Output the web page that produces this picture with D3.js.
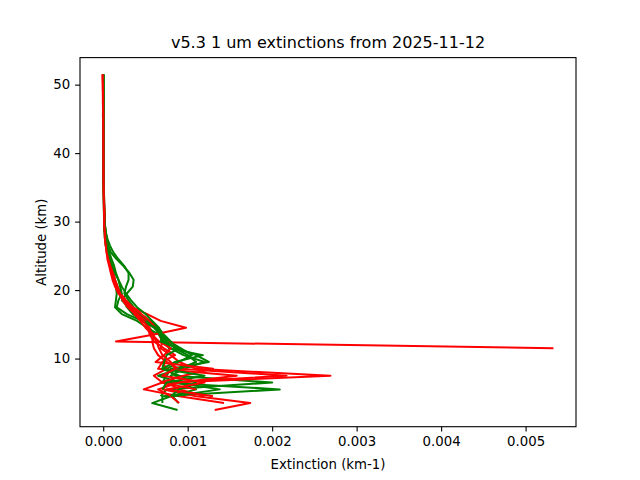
<!DOCTYPE html>
<html>
<head>
<meta charset="utf-8">
<script src="https://cdn.jsdelivr.net/npm/d3@7"></script>
<style>
  body { margin: 0; background: #fff; }
  text { font-family: "DejaVu Sans", sans-serif; fill: #000; }
</style>
</head>
<body>
<script>

// ================================ data
// altitude grid (km), top to bottom
var altitudes = [51.5, 50.5, 49.5, 48.5, 47.5, 46.5, 45.5, 44.5, 43.5, 42.5,
  41.5, 40.5, 39.5, 38.5, 37.5, 36.5, 35.5, 34.5, 33.5, 32.5,
  31.5, 30.5, 29.5, 28.5, 27.5, 26.5, 25.5, 24.5, 23.5, 22.5,
  21.5, 20.5, 19.5, 18.5, 17.5, 16.5, 15.5, 14.5, 13.5, 12.5,
  11.5, 10.5, 9.5, 8.5, 7.5, 6.5, 5.5, 4.5, 3.5, 2.5];

// green profiles (km-1), null = no data
var green1 = [0.000001, 0.000001, 0.000002, 0.000002, 0.000002, 0.000002, 0.000002, 0.000003, 0.000003, 0.000003,
  0.000003, 0.000004, 0.000004, 0.000004, 0.000005, 0.000005, 0.000006, 0.000006, 0.000007, 0.000008,
  0.000009, 0.000011, 0.00002, 0.00003, 0.00004, 0.00006, 0.00009, 0.00016, 0.00024, 0.00031,
  0.00036, 0.00035, 0.00028, 0.00022, 0.0003, 0.00041, 0.00052, 0.00063, 0.0007, 0.00078,
  0.00092, 0.00105, 0.0009, 0.00075, 0.00085, 0.002, 0.00075, 0.00068, null, null];
var green2 = [0.000003, 0.000002, 0.000002, 0.000003, 0.000003, 0.000003, 0.000003, 0.000004, 0.000004, 0.000004,
  0.000005, 0.000005, 0.000005, 0.000006, 0.000006, 0.000007, 0.000008, 0.000009, 0.00001, 0.000012,
  0.000014, 0.000016, 0.00002, 0.00003, 0.00005, 0.00008, 0.00012, 0.00018, 0.00025, 0.0003,
  0.0003, 0.00027, 0.00025, 0.0003, 0.00036, 0.00044, 0.00055, 0.00065, 0.00072, 0.0008,
  0.00088, 0.0011, 0.00125, 0.0008, 0.00075, 0.0007, 0.00209, 0.0007, 0.0007, null];
var green3 = [0.000002, 0.000002, 0.000002, 0.000002, 0.000003, 0.000003, 0.000003, 0.000003, 0.000003, 0.000004,
  0.000004, 0.000004, 0.000005, 0.000005, 0.000005, 0.000006, 0.000006, 0.000007, 0.000008, 0.000009,
  0.00001, 0.000012, 0.000015, 0.00002, 0.00003, 0.00004, 0.00005, 0.00007, 0.00009, 0.00011,
  0.00013, 0.00015, 0.00016, 0.00015, 0.00014, 0.00022, 0.0004, 0.00052, 0.00066, 0.00072,
  0.0008, 0.00095, 0.0012, 0.00095, 0.0008, 0.00085, 0.00138, 0.00082, 0.00089, null];
var green4 = [0.000001, 0.000001, 0.000001, 0.000002, 0.000002, 0.000002, 0.000002, 0.000002, 0.000003, 0.000003,
  0.000003, 0.000003, 0.000004, 0.000004, 0.000004, 0.000005, 0.000005, 0.000006, 0.000006, 0.000007,
  0.000008, 0.000009, 0.00001, 0.000015, 0.00002, 0.00003, 0.00005, 0.00007, 0.0001, 0.00012,
  0.00014, 0.00017, 0.0002, 0.00024, 0.00028, 0.00035, 0.00048, 0.0006, 0.00068, 0.00075,
  0.00085, 0.001, 0.0011, 0.0009, 0.00065, 0.0009, 0.0011, 0.0008, 0.00058, 0.00088];
var green5 = [0.000002, 0.000002, 0.000002, 0.000003, 0.000003, 0.000003, 0.000004, 0.000004, 0.000004, 0.000005,
  0.000005, 0.000005, 0.000006, 0.000006, 0.000007, 0.000007, 0.000008, 0.000009, 0.00001, 0.000011,
  0.000013, 0.000015, 0.00002, 0.00003, 0.00004, 0.00005, 0.00007, 0.0001, 0.00013, 0.00015,
  0.00018, 0.0002, 0.00022, 0.00018, 0.00016, 0.00028, 0.00046, 0.00062, 0.0007, 0.00072,
  0.00078, 0.00118, 0.00085, 0.0007, 0.0009, 0.0011, 0.0009, 0.0008, null, null];
var green6 = [0.000001, 0.000002, 0.000002, 0.000002, 0.000002, 0.000003, 0.000003, 0.000003, 0.000003, 0.000004,
  0.000004, 0.000004, 0.000004, 0.000005, 0.000005, 0.000006, 0.000006, 0.000007, 0.000007, 0.000008,
  0.000009, 0.00001, 0.00001, 0.00002, 0.00003, 0.00004, 0.00006, 0.00008, 0.00011, 0.00014,
  0.00018, 0.00022, 0.00027, 0.00033, 0.0004, 0.0005, 0.00058, 0.00066, 0.0007, 0.00068,
  0.0009, 0.00075, 0.00072, 0.0007, 0.0012, 0.00075, 0.0007, null, null, null];

// red profiles (km-1)
var red1 = [-0.000008, -0.000004, -0.000006, -0.000003, -0.000005, -0.000002, -0.000004, -0.000001, -0.000003, 0.000001,
  -0.000002, 0.000002, 0.000001, 0.000003, 0.000004, 0.000005, 0.000006, 0.000007, 0.000009, 0.000011,
  0.000014, 0.000017, 0.00001, 0.00002, 0.00003, 0.00004, 0.00005, 0.00006, 0.00008, 0.0001,
  0.00012, 0.00015, 0.00019, 0.00025, 0.00032, 0.00042, 0.0005, 0.00055, 0.0006, 0.00015,
  0.00533, null, 0.0007, 0.00075, 0.0006, 0.0007, 0.00048, 0.0009, 0.00143, null];
var red2 = [-0.000005, -0.000006, -0.000003, -0.000004, -0.000002, -0.000003, -0.000001, -0.000002, 0.000001, 0.000001,
  0.000002, 0.000002, 0.000003, 0.000003, 0.000004, 0.000005, 0.000006, 0.000008, 0.00001, 0.000012,
  0.000015, 0.000018, 0.000015, 0.00002, 0.00003, 0.00004, 0.00005, 0.00007, 0.00009, 0.00011,
  0.00013, 0.00016, 0.0002, 0.00027, 0.00035, 0.00045, 0.00055, 0.00062, 0.00066, 0.0007,
  0.00068, 0.0008, 0.0009, 0.0011, 0.00269, 0.0008, 0.0007, 0.0011, 0.00174, 0.00132];
var red3 = [-0.000002, -0.000003, -0.000001, -0.000002, 0.000001, -0.000001, 0.000001, 0.000002, 0.000002, 0.000002,
  0.000003, 0.000003, 0.000003, 0.000004, 0.000004, 0.000005, 0.000005, 0.000006, 0.000007, 0.000008,
  0.000009, 0.00001, 0.00001, 0.000015, 0.00002, 0.00003, 0.00004, 0.00005, 0.00007, 0.00009,
  0.00011, 0.00014, 0.00018, 0.00024, 0.00034, 0.00052, 0.00068, 0.00098, 0.0006, 0.00058,
  0.0006, 0.00065, 0.00075, 0.0009, 0.00217, 0.00075, 0.0009, 0.0012, null, null];
var red4 = [-0.000006, -0.000002, -0.000004, -0.000001, -0.000003, 0.000001, -0.000002, 0.000001, 0.000002, 0.000002,
  0.000002, 0.000003, 0.000003, 0.000004, 0.000004, 0.000005, 0.000006, 0.000007, 0.000008, 0.00001,
  0.000012, 0.000014, 0.00001, 0.00002, 0.00003, 0.00004, 0.00006, 0.00008, 0.0001, 0.00012,
  0.00014, 0.00017, 0.00021, 0.00026, 0.00033, 0.0004, 0.00048, 0.00053, 0.00055, 0.0006,
  0.00072, 0.00085, 0.0007, 0.00065, 0.00158, 0.0009, 0.00065, 0.0008, 0.0009, null];
var red5 = [-0.000003, -0.000001, -0.000002, 0.000001, -0.000001, 0.000001, 0.000002, 0.000002, 0.000002, 0.000003,
  0.000003, 0.000003, 0.000004, 0.000004, 0.000005, 0.000005, 0.000006, 0.000007, 0.000008, 0.000009,
  0.000011, 0.000013, 0.000012, 0.00002, 0.00003, 0.00004, 0.00005, 0.00006, 0.00008, 0.0001,
  0.00013, 0.00016, 0.0002, 0.00026, 0.00031, 0.00037, 0.00044, 0.0005, 0.00058, 0.00066,
  0.0008, 0.00072, 0.00062, 0.0013, 0.00095, 0.00068, 0.0011, null, null, null];
var red6 = [-0.000004, -0.000005, -0.000002, -0.000003, -0.000001, -0.000002, 0.000001, -0.000001, 0.000001, 0.000002,
  0.000002, 0.000002, 0.000003, 0.000003, 0.000004, 0.000004, 0.000005, 0.000006, 0.000007, 0.000008,
  0.000009, 0.000011, 0.00001, 0.00002, 0.00002, 0.00003, 0.00004, 0.00006, 0.00008, 0.0001,
  0.00012, 0.00015, 0.00019, 0.00023, 0.00029, 0.00038, 0.00047, 0.00054, 0.00058, 0.00063,
  0.00066, 0.0007, 0.0008, 0.00085, 0.0007, 0.0012, 0.00075, 0.0013, null, null];

// plotting order (alternating as in the original plot)
var profiles = [green1, red1, green2, red2, green3, red3, green4, red4, green5, red5, green6, red6];
var profileColors = ["green", "red", "green", "red", "green", "red", "green", "red", "green", "red", "green", "red"];

var xTicks = [0, 0.001, 0.002, 0.003, 0.004, 0.005];
var yTicks = [10, 20, 30, 40, 50];

var titleText = "v5.3 1 um extinctions from 2025-11-12";
var xLabel = "Extinction (km-1)";
var yLabel = "Altitude (km)";

// ================================ layout
var svgWidth = 640;
var svgHeight = 480;

var chartMargin = {
  top: 57.6,
  right: 64,
  bottom: 53.3,
  left: 80
};

var chartWidth = svgWidth - chartMargin.left - chartMargin.right;
var chartHeight = svgHeight - chartMargin.top - chartMargin.bottom;

var svg = d3.select("body")
  .append("svg")
  .attr("width", svgWidth)
  .attr("height", svgHeight);

var chartGroup = svg.append("g")
  .attr("transform", `translate(${chartMargin.left}, ${chartMargin.top})`);

// ================================ scales (matplotlib-like 5% margins)
var allX = [];
var allY = [];
profiles.forEach(function (p) {
  p.forEach(function (v, i) {
    if (v != null) { allX.push(v); allY.push(altitudes[i]); }
  });
});
var xExt = d3.extent(allX);
var yExt = d3.extent(allY);
var xPad = (xExt[1] - xExt[0]) * 0.05;
var yPad = (yExt[1] - yExt[0]) * 0.05;

var xScale = d3.scaleLinear()
  .domain([xExt[0] - xPad, xExt[1] + xPad])
  .range([0, chartWidth]);

var yScale = d3.scaleLinear()
  .domain([yExt[0] - yPad, yExt[1] + yPad])
  .range([chartHeight, 0]);

// ================================ lines
var line = d3.line()
  .defined(d => d.x != null)
  .x(d => xScale(d.x))
  .y(d => yScale(d.y));

profiles.forEach(function (p, k) {
  var pts = p.map((v, i) => ({ x: v, y: altitudes[i] }));
  chartGroup.append("path")
    .datum(pts)
    .attr("d", line)
    .attr("fill", "none")
    .attr("stroke", profileColors[k])
    .attr("stroke-width", 2)
    .attr("stroke-linejoin", "round")
    .attr("stroke-linecap", "butt");
});

// ================================ axes
var bottomAxis = d3.axisBottom(xScale)
  .tickValues(xTicks)
  .tickFormat(d3.format(".3f"))
  .tickSize(4.9)
  .tickPadding(4.9);

var leftAxis = d3.axisLeft(yScale)
  .tickValues(yTicks)
  .tickFormat(d3.format("d"))
  .tickSize(4.9)
  .tickPadding(4.9);

var xAxisG = chartGroup.append("g")
  .attr("transform", `translate(0, ${chartHeight})`)
  .call(bottomAxis);

var yAxisG = chartGroup.append("g")
  .call(leftAxis);

[xAxisG, yAxisG].forEach(function (g) {
  g.select(".domain").remove();
  g.selectAll(".tick line").attr("stroke", "#000").attr("stroke-width", 1.1);
  g.selectAll(".tick text")
    .style("font-family", "'DejaVu Sans', sans-serif")
    .style("font-size", "13.3px")
    .attr("fill", "#000");
});

// frame
chartGroup.append("rect")
  .attr("x", 0)
  .attr("y", 0)
  .attr("width", chartWidth)
  .attr("height", chartHeight)
  .attr("fill", "none")
  .attr("stroke", "#000")
  .attr("stroke-width", 1.1);

// ================================ labels
svg.append("text")
  .attr("x", chartMargin.left + chartWidth / 2)
  .attr("y", chartMargin.top - 9.5)
  .attr("text-anchor", "middle")
  .style("font-size", "16px")
  .text(titleText);

svg.append("text")
  .attr("x", chartMargin.left + chartWidth / 2)
  .attr("y", 469)
  .attr("text-anchor", "middle")
  .style("font-size", "13.3px")
  .text(xLabel);

svg.append("text")
  .attr("transform", `translate(46, ${chartMargin.top + chartHeight / 2}) rotate(-90)`)
  .attr("text-anchor", "middle")
  .style("font-size", "13.3px")
  .text(yLabel);

</script>
</body>
</html>
